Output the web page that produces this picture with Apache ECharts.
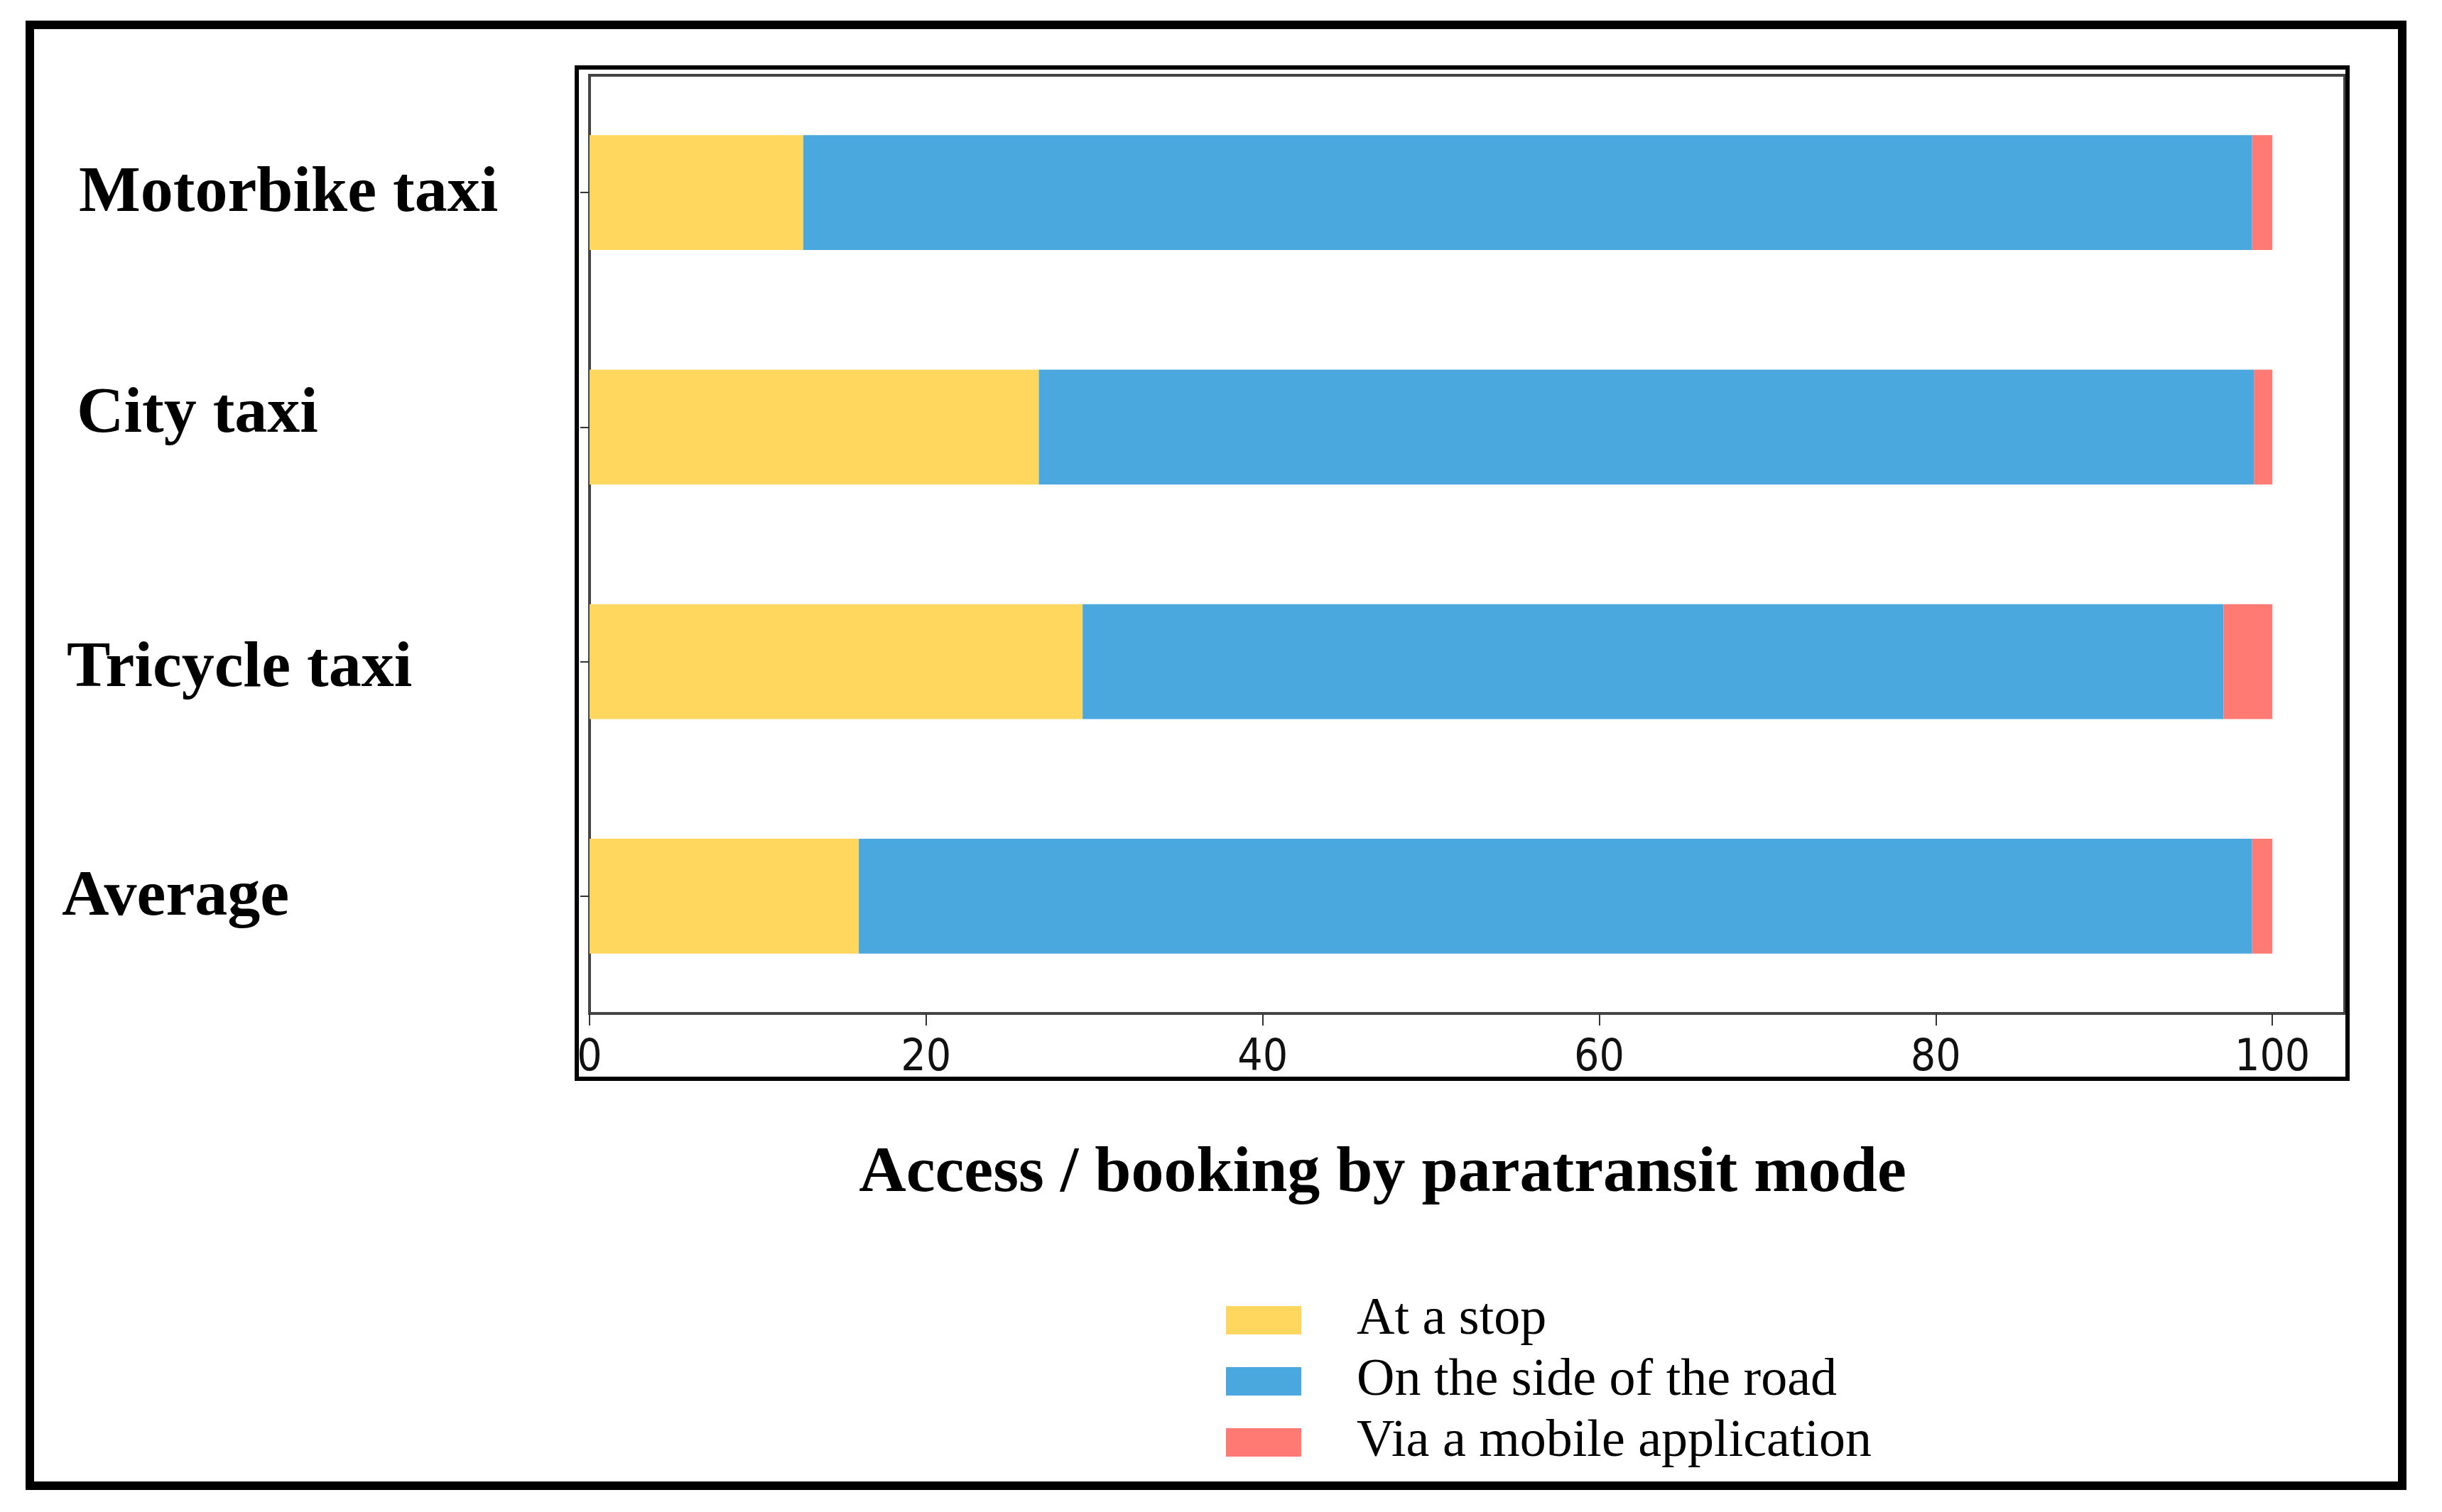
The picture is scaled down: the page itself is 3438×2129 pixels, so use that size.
<!DOCTYPE html>
<html><head><meta charset="utf-8">
<script src="https://cdn.jsdelivr.net/npm/echarts@6/dist/echarts.min.js"></script>
<style>html,body{margin:0;padding:0;background:#fff}#c{width:3438px;height:2129px}</style>
</head><body><div id="c"></div>
<script>
// ---- data ----
const categories = ['Motorbike taxi', 'City taxi', 'Tricycle taxi', 'Average'];
const seriesNames = ['At a stop', 'On the side of the road', 'Via a mobile application'];
const atStop    = [12.7, 26.7, 29.3, 16.0];
const roadside  = [86.1, 72.2, 67.8, 82.8];
const mobileApp = [1.2, 1.1, 2.9, 1.2];
const xTicks = [0, 20, 40, 60, 80, 100];
const xTitle = 'Access / booking by paratransit mode';

// ---- presentation ----
const colors = ['#FFD75E', '#4AA8DE', '#FF7A73'];
const labelBoxW = [699, 702, 716, 723];          // left-aligned label box widths
const labelPad  = [[4,0,0,0], [0,0,34,0], [22,0,0,0], [4,0,0,0]];
const serif = '"Liberation Serif", "Times New Roman", serif';

const rich = {};
categories.forEach((c, i) => {
  rich['l' + i] = {width: labelBoxW[i], align: 'left', padding: labelPad[i],
                   fontFamily: serif, fontWeight: 'bold', fontSize: 92, color: '#000'};
});

const chart = echarts.init(document.getElementById('c'), null, {renderer: 'canvas'});
const option = {
  animation: false,
  backgroundColor: '#fff',
  color: colors,
  grid: {left: 830, right: 137, top: 106, bottom: 702, show: true,
         borderColor: '#444', borderWidth: 4, containLabel: false, outerBoundsMode: 'none'},
  legend: {
    orient: 'vertical', left: 1726, top: 1822, height: 600, padding: 0,
    itemWidth: 106, itemHeight: 40, itemGap: 12, icon: 'rect', selectedMode: false,
    data: seriesNames,
    textStyle: {fontFamily: serif, fontSize: 74, color: '#000', padding: [0, 0, 0, 73]}
  },
  xAxis: {
    type: 'value', min: 0, max: 104.3, interval: 20,
    name: xTitle, nameLocation: 'middle', nameGap: 180,
    nameTextStyle: {fontFamily: serif, fontWeight: 'bold',
                    fontSize: 92, color: '#000', lineHeight: 92, padding: [0, 238, 0, 0]},
    axisLine: {show: true, lineStyle: {color: '#444', width: 4}},
    axisTick: {show: true, length: 17, lineStyle: {color: '#333', width: 2}},
    splitLine: {show: false},
    axisLabel: {
      margin: 33, fontFamily: '"DejaVu Sans Condensed", "DejaVu Sans", sans-serif',
      fontSize: 62, color: '#111',
      showMaxLabel: false,
      formatter: v => xTicks.includes(v) ? String(v) : ''
    }
  },
  yAxis: {
    type: 'category', inverse: true,
    data: categories,
    axisLine: {show: true, lineStyle: {color: '#444', width: 4}},
    axisTick: {show: true, alignWithLabel: true, length: 13, lineStyle: {color: '#333', width: 2}},
    axisLabel: {margin: 20, interval: 0, rich: rich,
                formatter: (v, i) => '{l' + i + '|' + v + '}'}
  },
  series: [atStop, roadside, mobileApp].map((d, i) => ({
    name: seriesNames[i], type: 'bar', stack: 'total', barWidth: '49%', data: d,
    itemStyle: {color: colors[i]}
  })),
  graphic: [
    {type: 'rect', silent: true, z: 100,
     shape: {x: 42, y: 35, width: 3340, height: 2057},
     style: {fill: 'none', stroke: '#000', lineWidth: 12}},
    {type: 'rect', silent: true, z: 100,
     shape: {x: 812, y: 95, width: 2493, height: 1424},
     style: {fill: 'none', stroke: '#000', lineWidth: 6}}
  ]
};
chart.setOption(option);
</script>
</body></html>
